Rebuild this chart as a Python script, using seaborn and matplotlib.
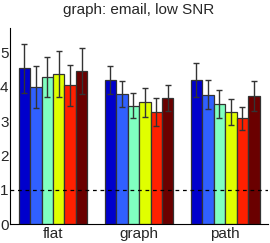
import numpy as np
import pandas as pd
import matplotlib
matplotlib.use("Agg")
import matplotlib.pyplot as plt
import seaborn as sns

# === Data ===
conditions = ["flat", "graph", "path"]
methods = ["m1", "m2", "m3", "m4", "m5", "m6"]
means = {
    "flat":  [4.53, 3.99, 4.28, 4.37, 4.04, 4.46],
    "graph": [4.19, 3.78, 3.45, 3.54, 3.27, 3.66],
    "path":  [4.19, 3.76, 3.49, 3.25, 3.08, 3.72],
}
errors = {
    "flat":  [0.70, 0.60, 0.59, 0.66, 0.60, 0.67],
    "graph": [0.40, 0.38, 0.37, 0.42, 0.41, 0.38],
    "path":  [0.49, 0.42, 0.40, 0.38, 0.33, 0.44],
}
colors = ["#0000CC", "#3060FF", "#80FFC0", "#E0FF00", "#FF2000", "#6A0000"]

rows = []
for c in conditions:
    for m, v, e in zip(methods, means[c], errors[c]):
        rows.append({"cond": c, "method": m, "value": v, "err": e})
df = pd.DataFrame(rows)

# === Plot ===
sns.set_style("white")
plt.rcParams["font.family"] = ["Liberation Sans", "DejaVu Sans"]

fig = plt.figure(figsize=(2.7, 2.43), dpi=100)
ax = fig.add_axes([0.037, 0.078, 0.956, 0.807])

sns.barplot(data=df, x="cond", y="value", hue="method", order=conditions,
            hue_order=methods, palette=colors, width=0.8, errorbar=None,
            edgecolor="#333333", linewidth=0.9, saturation=1, ax=ax)
ax.legend_.remove()

# error bars at bar centres
for bars, m in zip(ax.containers, methods):
    sub = df[df["method"] == m].set_index("cond").loc[conditions]
    xs = [b.get_x() + b.get_width() / 2 for b in bars]
    ax.errorbar(xs, sub["value"], yerr=sub["err"], fmt="none",
                ecolor="#333333", elinewidth=1.0, capsize=2.5, capthick=1.0)

ax.axhline(1, color="black", linestyle=(0, (3, 3)), linewidth=0.9)

ax.set_xlim(-0.5, 2.5)
ax.set_ylim(0, 5.71)
ax.set_yticks([0, 1, 2, 3, 4, 5])
ax.set_xlabel("")
ax.set_ylabel("")
ax.set_title("graph: email, low SNR", fontsize=11, pad=10)
ax.tick_params(axis="both", labelsize=11, direction="in", length=2, pad=1)
ax.tick_params(axis="x", length=0, pad=2)
for s in ["top", "right"]:
    ax.spines[s].set_visible(False)
for s in ["left", "bottom"]:
    ax.spines[s].set_color("black")
    ax.spines[s].set_linewidth(0.8)

fig.savefig("out.png", dpi=100)
